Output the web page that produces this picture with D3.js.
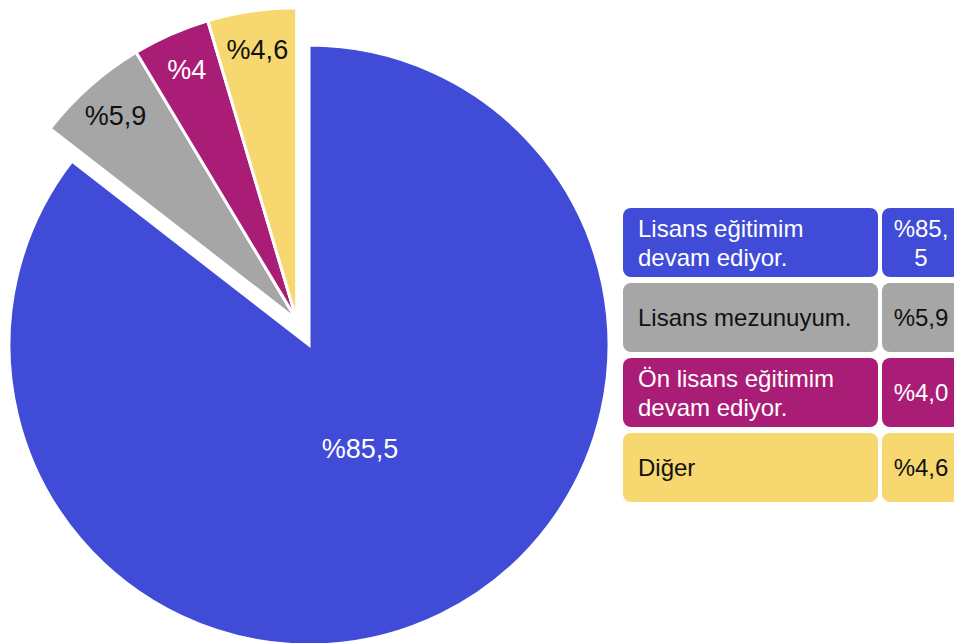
<!DOCTYPE html>
<html lang="tr">
<head>
    <meta charset="UTF-8">
    <title>Eğitim durumu</title>
    <script src="https://cdnjs.cloudflare.com/ajax/libs/d3/7.8.5/d3.min.js"></script>
    <style>
        body {
            margin: 0;
            background: #fff;
            font-family: "Liberation Sans", Arial, Helvetica, sans-serif;
        }
        svg { display: block; }
        .slice { stroke: #fff; stroke-width: 3px; }
        .pie-label { font-size: 27px; text-anchor: middle; dominant-baseline: central; }
        .legend text { font-size: 24px; }
    </style>
</head>
<body>
    <div id="chart"></div>

    <script>
        // Data
        const categories = [
            "Lisans eğitimim devam ediyor.",
            "Lisans mezunuyum.",
            "Ön lisans eğitimim devam ediyor.",
            "Diğer"
        ];
        const values = [85.5, 5.9, 4.0, 4.6];
        const colors = ["#404cd8", "#a6a6a6", "#aa1d76", "#f6d770"];
        const textColors = ["#fff", "#111", "#fff", "#111"];

        const width = 954;
        const height = 643;

        const svg = d3.select("#chart")
            .append("svg")
            .attr("width", width)
            .attr("height", height);

        // Pie setup
        const cx = 309, cy = 345;
        const radius = 300;
        const bigRadius = 312;   // pulled-out slices are drawn a bit larger
        const explode = 28;

        const pie = d3.pie().sort(null).value(d => d);
        const arcs = pie(values);

        // the small slices are pulled out together, along their common middle
        const groupMid = (arcs[1].startAngle + 2 * Math.PI) / 2;
        const dx = explode * Math.sin(groupMid);
        const dy = -explode * Math.cos(groupMid);

        const arc = d3.arc().innerRadius(0);

        const pct = v => "%" + String(v).replace(".", ",");
        const pct1 = v => "%" + v.toFixed(1).replace(".", ",");

        const g = svg.append("g").attr("transform", `translate(${cx},${cy})`);

        const slices = g.selectAll(".slice-g")
            .data(arcs)
            .enter().append("g")
            .attr("transform", (d, i) => i === 0 ? null : `translate(${dx},${dy})`);

        slices.append("path")
            .attr("class", "slice")
            .attr("fill", (d, i) => colors[i])
            .attr("d", (d, i) => arc.outerRadius(i === 0 ? radius : bigRadius)(d));

        slices.append("text")
            .attr("class", "pie-label")
            .attr("fill", (d, i) => textColors[i])
            .attr("transform", (d, i) => {
                const r = i === 0 ? 116 : 273;
                const a = (d.startAngle + d.endAngle) / 2;
                return `translate(${r * Math.sin(a)},${-r * Math.cos(a)})`;
            })
            .text(d => pct(d.data));

        // Legend table
        const legX = 623, legY = 208;
        const labelW = 255, valueW = 78;
        const rowH = 69, rowStep = 75;
        const pad = 15;
        const lineH = 29;

        const measure = svg.append("text").style("font-size", "24px").attr("visibility", "hidden");
        const textWidth = s => { measure.text(s); return measure.node().getComputedTextLength(); };

        function wrapWords(str, maxW) {
            const words = str.split(" ");
            const lines = [];
            let line = "";
            words.forEach(w => {
                const test = line ? line + " " + w : w;
                if (line && textWidth(test) > maxW) {
                    lines.push(line);
                    line = w;
                } else {
                    line = test;
                }
            });
            lines.push(line);
            return lines;
        }

        function wrapValue(str, maxW) {
            if (textWidth(str) <= maxW) return [str];
            const k = str.indexOf(",") + 1;
            return [str.slice(0, k), str.slice(k)];
        }

        function drawLines(sel, lines, x, mid) {
            const first = mid + 8.5 - (lines.length - 1) * lineH / 2;
            lines.forEach((l, j) => {
                sel.append("tspan").attr("x", x).attr("y", first + j * lineH).text(l);
            });
        }

        const legend = svg.append("g").attr("class", "legend");

        categories.forEach((c, i) => {
            const y = legY + i * rowStep;
            const mid = y + rowH / 2;
            const row = legend.append("g");

            row.append("rect")
                .attr("x", legX).attr("y", y)
                .attr("width", labelW).attr("height", rowH)
                .attr("rx", 8)
                .attr("fill", colors[i]);

            row.append("rect")
                .attr("x", legX + labelW + 4).attr("y", y)
                .attr("width", valueW).attr("height", rowH)
                .attr("rx", 8)
                .attr("fill", colors[i]);

            const t1 = row.append("text").attr("fill", textColors[i]);
            drawLines(t1, wrapWords(c, labelW - 2 * pad), legX + pad, mid);

            const t2 = row.append("text").attr("fill", textColors[i]).attr("text-anchor", "middle");
            drawLines(t2, wrapValue(pct1(values[i]), valueW - 20), legX + labelW + 4 + valueW / 2, mid);
        });

        measure.remove();
    </script>
</body>
</html>
